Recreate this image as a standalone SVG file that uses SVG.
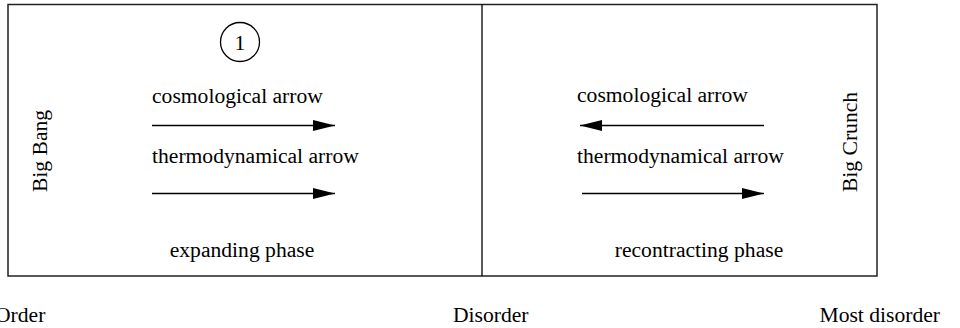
<svg xmlns="http://www.w3.org/2000/svg" width="960" height="328" viewBox="0 0 960 328">
<style>
text{font-family:"Liberation Serif","Times New Roman",serif;font-size:21.6px;fill:#000}
.box{fill:#fff;stroke:#222;stroke-width:1.5}
.ln{stroke:#000;stroke-width:1.3;fill:none}
</style>
<defs>
<marker id="ah" viewBox="0 0 22 11" refX="22" refY="5.5" markerWidth="22" markerHeight="11" markerUnits="userSpaceOnUse" orient="auto">
<path d="M0,0 L22,5.5 L0,11 Z" fill="#000"/>
</marker>
</defs>
<rect width="960" height="328" fill="#fff"/>
<g id="frame">
<rect class="box" x="8" y="4.5" width="869" height="271.5"/>
<line class="ln" x1="482" y1="4.5" x2="482" y2="276"/>
</g>
<g id="phase1">
<circle cx="240" cy="42" r="19.5" fill="none" stroke="#000" stroke-width="1.3"/>
<text x="240" y="50" text-anchor="middle">1</text>
<text x="152" y="103">cosmological arrow</text>
<text x="152" y="163">thermodynamical arrow</text>
<text x="242" y="257" text-anchor="middle">expanding phase</text>
<text transform="translate(47,151) rotate(-90)" text-anchor="middle">Big Bang</text>
</g>
<g id="phase2">
<text x="577" y="102">cosmological arrow</text>
<text x="577" y="163">thermodynamical arrow</text>
<text x="699" y="257" text-anchor="middle">recontracting phase</text>
<text transform="translate(857,142) rotate(-90)" text-anchor="middle">Big Crunch</text>
</g>
<g id="connectors">
<line class="ln" x1="152" y1="125.5" x2="335" y2="125.5" marker-end="url(#ah)"/>
<line class="ln" x1="152" y1="193.5" x2="335" y2="193.5" marker-end="url(#ah)"/>
<line class="ln" x1="764" y1="125.5" x2="580" y2="125.5" marker-end="url(#ah)"/>
<line class="ln" x1="582" y1="193.5" x2="764" y2="193.5" marker-end="url(#ah)"/>
</g>
<g id="scale">
<text x="-5" y="322">Order</text>
<text x="453" y="322">Disorder</text>
<text x="940" y="322" text-anchor="end">Most disorder</text>
</g>
</svg>
